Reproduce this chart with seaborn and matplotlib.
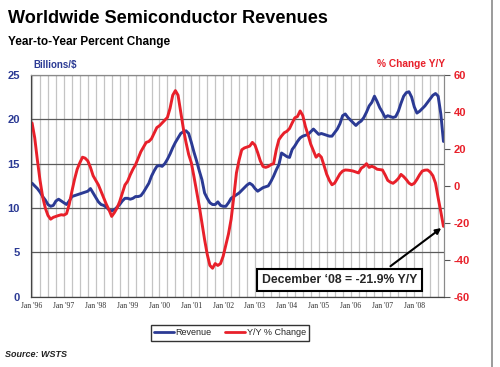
import numpy as np
import pandas as pd
import seaborn as sns
import matplotlib.pyplot as plt
from matplotlib.lines import Line2D

# monthly values Jan '96 .. Dec '08
revenue = [
    12.8, 12.5, 12.2, 11.8, 11.3, 10.9, 10.4, 10.2, 10.3, 10.8, 11.0, 10.8,   # 1996
    10.6, 10.4, 10.8, 11.3, 11.4, 11.5, 11.6, 11.7, 11.8, 11.9, 12.2, 11.7,   # 1997
    11.2, 10.7, 10.4, 10.3, 10.1, 9.8, 9.7, 9.8, 10.1, 10.4, 10.8, 11.1,      # 1998
    11.1, 11.0, 11.1, 11.3, 11.3, 11.4, 11.8, 12.3, 12.8, 13.6, 14.2, 14.7,   # 1999
    14.8, 14.7, 15.0, 15.5, 16.1, 16.8, 17.4, 17.9, 18.4, 18.6, 18.7, 18.4,   # 2000
    17.4, 16.3, 15.3, 14.2, 13.2, 11.7, 11.1, 10.6, 10.4, 10.4, 10.7, 10.3,   # 2001
    10.2, 10.2, 10.6, 11.1, 11.3, 11.5, 11.7, 12.0, 12.3, 12.6, 12.8, 12.6,   # 2002
    12.2, 11.9, 12.1, 12.3, 12.4, 12.5, 13.0, 13.6, 14.3, 14.9, 16.2, 16.0,   # 2003
    15.8, 15.7, 16.6, 17.0, 17.5, 17.9, 18.1, 18.2, 18.3, 18.6, 18.9, 18.6,   # 2004
    18.3, 18.4, 18.3, 18.2, 18.1, 18.1, 18.5, 18.9, 19.5, 20.4, 20.6, 20.2,   # 2005
    19.9, 19.6, 19.3, 19.6, 19.8, 20.2, 20.8, 21.5, 21.9, 22.6, 22.0, 21.3,   # 2006
    20.8, 20.2, 20.4, 20.3, 20.2, 20.3, 20.9, 21.8, 22.6, 23.0, 23.1, 22.5,   # 2007
    21.4, 20.7, 20.9, 21.2, 21.5, 21.9, 22.3, 22.7, 22.9, 22.6, 20.6, 17.5,   # 2008
]
yoy_change = [
    34, 26, 14, 3, -6, -12, -16, -18, -17, -16.5, -16, -15.6,
    -15.8, -15, -10, -3, 3.5, 9, 12.5, 15.5, 15, 13.5, 10, 5.5,
    3, 0.5, -3, -6.5, -10, -13, -16.5, -14.5, -12, -8.5, -4, 0.5,
    2.5, 6, 9, 11.5, 15, 18.5, 21, 23.5, 24, 25.5, 28.5, 31.5,
    32.5, 34, 35.5, 37, 42, 49, 51.5, 49, 40, 31, 23.5, 17,
    12.5, 5, -3, -11, -20, -29, -37, -43, -44.5, -42, -43, -42,
    -38, -32, -26, -18, -6, 7, 14, 19.5, 20.5, 21, 21.5, 23.5,
    22, 18, 13.5, 10.5, 10, 10.5, 11.5, 12, 19.5, 25, 27, 28.7,
    29.5, 31, 34, 36.8, 37.5, 40.5, 38, 32, 27.5, 22.5, 19, 15.5,
    17, 15.5, 11, 6.3, 3, 0.6, 1.5, 4, 6.5, 8, 8.6, 8.5,
    8.3, 8, 7.5, 7, 9.5, 10.5, 12, 10, 10.6, 10, 9, 8.8,
    8.6, 6, 3, 2, 1.4, 2.5, 4, 6.2, 5, 3.4, 1.5, 0.6,
    1.4, 3.5, 6, 8, 8.5, 8.6, 7.5, 5.5, 1.5, -6.5, -14, -21.9,
]
years = ["96", "97", "98", "99", "00", "01", "02", "03", "04", "05", "06", "07", "08"]
tick_labels = ["Jan '" + y for y in years]

left_ticks = [0, 5, 10, 15, 20, 25]
right_ticks = [-60, -40, -20, 0, 20, 40, 60]

df = pd.DataFrame({"month": np.arange(len(revenue)),
                   "Revenue": revenue,
                   "Y/Y % Change": yoy_change})

blue = "#2B3A94"
red = "#E8202A"

sns.set_style("white")
plt.rcParams["font.family"] = ["Liberation Sans", "DejaVu Sans"]

fig = plt.figure(figsize=(5, 3.67), dpi=100)
ax = fig.add_axes([0.062, 0.191, 0.826, 0.605])
ax2 = ax.twinx()

sns.lineplot(data=df, x="month", y="Revenue", color=blue, lw=2.1, ax=ax, label="Revenue", legend=False)
sns.lineplot(data=df, x="month", y="Y/Y % Change", color=red, lw=2.1, ax=ax2, label="Y/Y % Change", legend=False)

ax.set_xlim(-0.4, 155.2)
ax.set_ylim(0, 25)
ax2.set_ylim(-60, 60)

# grid: quarterly light vertical lines, dark horizontal ones
ax.set_xticks(np.arange(0, 156, 12))
ax.set_xticks(np.arange(0, 156, 3), minor=True)
ax.set_xticklabels(tick_labels, fontsize=5.6, color="#333333", family="Liberation Serif")
ax.xaxis.grid(True, which="both", color="#c4c4c4", lw=0.9)
ax.set_yticks(left_ticks)
ax.set_yticklabels([str(t) for t in left_ticks], fontsize=8, fontweight="bold", color=blue)
ax.yaxis.grid(True, color="#5a5a5a", lw=0.9)
ax.set_axisbelow(True)
ax.tick_params(axis="x", which="both", length=0, pad=4)
ax.tick_params(axis="y", length=0, pad=8)

ax2.set_yticks(right_ticks)
ax2.set_yticklabels([str(t) for t in right_ticks], fontsize=8, fontweight="bold", color=red)
ax2.tick_params(axis="y", length=4, width=0.8, color="#555555", direction="out", pad=3)
ax2.grid(False)

ax.set_xlabel("")
ax.set_ylabel("")
ax2.set_ylabel("")

for a in (ax, ax2):
    for s in a.spines.values():
        s.set_color("#8a8a8a")
        s.set_linewidth(0.8)
    a.spines["left"].set_color("#444444")
    a.spines["bottom"].set_color("#444444")

# annotation box with arrow to the last point
ax2.annotate("", xy=(155, -21.9), xytext=(134.2, -44.3),
             arrowprops=dict(arrowstyle="-|>", color="black", lw=1.5, mutation_scale=8))
ax2.text(115.8, -51.0, "December \u201808 = -21.9% Y/Y", fontsize=8.8, fontweight="bold",
         ha="center", va="center",
         bbox=dict(boxstyle="square,pad=0.4", fc="white", ec="black", lw=1.5))

# titles and axis captions
fig.text(0.016, 0.95, "Worldwide Semiconductor Revenues", fontsize=13.1, fontweight="bold",
         ha="left", va="center", color="black")
fig.text(0.016, 0.885, "Year-to-Year Percent Change", fontsize=8.5, fontweight="bold",
         ha="left", va="center", color="black")
fig.text(0.066, 0.823, "Billions/$", fontsize=7, fontweight="bold", ha="left", va="center", color=blue)
fig.text(0.89, 0.826, "% Change Y/Y", fontsize=7.3, fontweight="bold", ha="right", va="center", color=red)
fig.text(0.01, 0.033, "Source: WSTS", fontsize=6.5, fontweight="bold", style="italic",
         ha="left", va="center", color="#222222")

# legend below the plot
handles = [Line2D([], [], color=blue, lw=2), Line2D([], [], color=red, lw=2)]
fig.legend(handles, ["Revenue", "Y/Y % Change"], loc="center", bbox_to_anchor=(0.46, 0.093),
           ncol=2, fontsize=6.5, frameon=True, fancybox=False, edgecolor="black",
           handlelength=2.2, handletextpad=0.2, columnspacing=1.5, borderpad=0.35)

# slide border on the right
fig.add_artist(Line2D([0.984, 0.984], [0.0, 1.0], color="#8a8a8a", lw=1.2, transform=fig.transFigure))

fig.savefig("out.png", dpi=100)
